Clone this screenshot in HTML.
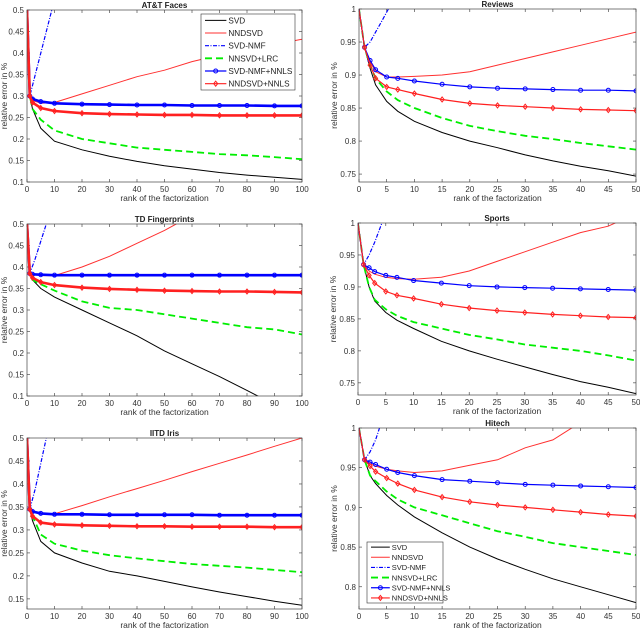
<!DOCTYPE html>
<html><head><meta charset="utf-8"><style>
html,body{margin:0;padding:0;background:#fff;}
svg{display:block;font-family:"Liberation Sans",sans-serif;}
</style></head><body>
<svg id="fig" width="640" height="629" viewBox="0 0 640 629" xmlns="http://www.w3.org/2000/svg"></svg>
<script>
// ---- data ----
const x100 = [0,1,2,5,10,20,30,40,50,60,70,80,90,100];
const x50 = [0,1,2,3,5,7,10,15,20,25,30,35,40,45,50];
const seriesNames = ["SVD","NNDSVD","SVD-NMF","NNSVD+LRC","SVD-NMF+NNLS","NNDSVD+NNLS"];

const attSVD = [0.5,0.3,0.27,0.225,0.195,0.175,0.16,0.148,0.138,0.13,0.122,0.116,0.111,0.106];
const attNND = [0.5,0.3,0.29,0.283,0.285,0.305,0.325,0.345,0.36,0.38,0.395,0.41,0.42,0.432];
const attNMFx = [0,1,3,5,7,9];
const attNMF = [0.5,0.3,0.35,0.4,0.45,0.5];
const attLRC = [0.5,0.3,0.27,0.245,0.22,0.2,0.19,0.18,0.175,0.17,0.165,0.162,0.158,0.153];
const attNMFNN = [0.5,0.3,0.293,0.287,0.283,0.281,0.28,0.279,0.279,0.278,0.278,0.278,0.277,0.277];
const attNNDNN = [0.5,0.3,0.285,0.272,0.265,0.26,0.258,0.257,0.256,0.256,0.255,0.255,0.255,0.255];

const tdSVD = [0.5,0.385,0.37,0.35,0.33,0.3,0.27,0.24,0.205,0.175,0.145,0.113,0.08,0.045];
const tdNND = [0.5,0.385,0.383,0.38,0.38,0.4,0.425,0.455,0.485,0.52,0.55,0.58,0.61,0.64];
const tdNMFx = [0,1,3,5,7];
const tdNMF = [0.5,0.385,0.42,0.46,0.5];
const tdLRC = [0.5,0.385,0.37,0.36,0.345,0.32,0.305,0.3,0.29,0.28,0.27,0.26,0.255,0.243];
const tdNMFNN = [0.5,0.385,0.383,0.382,0.381,0.381,0.381,0.381,0.381,0.381,0.381,0.381,0.381,0.381];
const tdNNDNN = [0.5,0.385,0.375,0.365,0.358,0.352,0.349,0.347,0.345,0.344,0.343,0.343,0.342,0.341];

const irSVD = [0.5,0.345,0.32,0.275,0.25,0.228,0.21,0.2,0.188,0.176,0.165,0.155,0.145,0.136];
const irNND = [0.5,0.345,0.34,0.335,0.335,0.353,0.372,0.39,0.408,0.427,0.445,0.463,0.482,0.5];
const irNMFx = [0,1,3,5,7];
const irNMF = [0.5,0.345,0.39,0.445,0.5];
const irLRC = [0.5,0.345,0.33,0.29,0.27,0.255,0.245,0.238,0.232,0.226,0.222,0.218,0.213,0.208];
const irNMFNN = [0.5,0.345,0.34,0.336,0.334,0.334,0.333,0.333,0.333,0.333,0.332,0.332,0.332,0.332];
const irNNDNN = [0.5,0.345,0.33,0.316,0.312,0.31,0.309,0.308,0.308,0.307,0.307,0.307,0.306,0.306];

const rvSVD = [1,0.942,0.91,0.885,0.86,0.845,0.83,0.813,0.8,0.79,0.779,0.77,0.762,0.755,0.747];
const rvNND = [1,0.942,0.92,0.905,0.897,0.897,0.898,0.9,0.905,0.915,0.925,0.935,0.945,0.955,0.965];
const rvNMFx = [0,1,2,3,4,5.3];
const rvNMF = [1,0.942,0.95,0.965,0.98,1];
const rvLRC = [1,0.942,0.915,0.895,0.875,0.862,0.85,0.835,0.823,0.815,0.808,0.803,0.797,0.792,0.787];
const rvNMFNN = [1,0.942,0.922,0.908,0.897,0.895,0.891,0.886,0.882,0.88,0.879,0.878,0.877,0.877,0.876];
const rvNNDNN = [1,0.942,0.915,0.895,0.882,0.878,0.872,0.863,0.857,0.854,0.852,0.85,0.848,0.847,0.846];

const spSVD = [1,0.935,0.9,0.878,0.86,0.848,0.835,0.815,0.8,0.787,0.775,0.763,0.752,0.743,0.733];
const spNND = [1,0.935,0.925,0.92,0.915,0.913,0.912,0.915,0.925,0.94,0.955,0.97,0.985,0.995,1.015];
const spNMFx = [0,1,2,3,4.3];
const spNMF = [1,0.935,0.95,0.97,1];
const spLRC = [1,0.935,0.9,0.88,0.865,0.855,0.845,0.835,0.825,0.818,0.81,0.805,0.8,0.793,0.785];
const spNMFNN = [1,0.935,0.93,0.924,0.918,0.915,0.91,0.906,0.902,0.9,0.899,0.898,0.897,0.896,0.895];
const spNNDNN = [1,0.935,0.918,0.906,0.893,0.887,0.882,0.873,0.867,0.863,0.86,0.857,0.855,0.853,0.852];

const htSVD = [1,0.96,0.94,0.93,0.915,0.903,0.888,0.868,0.85,0.835,0.822,0.81,0.8,0.79,0.78];
const htNND = [1,0.96,0.955,0.952,0.948,0.946,0.944,0.946,0.953,0.96,0.975,0.985,1.007,1.02,1.03];
const htNMFx = [0,1,2,3,3.7];
const htNMF = [1,0.96,0.97,0.985,1];
const htLRC = [1,0.96,0.94,0.933,0.92,0.91,0.9,0.89,0.88,0.87,0.863,0.855,0.85,0.845,0.84];
const htNMFNN = [1,0.96,0.957,0.954,0.948,0.944,0.94,0.935,0.933,0.931,0.929,0.928,0.927,0.926,0.925];
const htNNDNN = [1,0.96,0.952,0.945,0.937,0.93,0.922,0.913,0.907,0.903,0.9,0.897,0.894,0.891,0.889];

const yTicks01 = [0.1,0.15,0.2,0.25,0.3,0.35,0.4,0.45,0.5];
const yTicks015 = [0.15,0.2,0.25,0.3,0.35,0.4,0.45,0.5];
const yTicks075 = [0.75,0.8,0.85,0.9,0.95,1];
const yTicks08 = [0.8,0.85,0.9,0.95,1];
const xTicks100 = [0,10,20,30,40,50,60,70,80,90,100];
const xTicks50 = [0,5,10,15,20,25,30,35,40,45,50];

// ---- rendering ----
const NS = "http://www.w3.org/2000/svg";
const svg = document.getElementById('fig');
function mk(tag, attrs, parent){
  const e = document.createElementNS(NS, tag);
  for (const k in attrs) e.setAttribute(k, attrs[k]);
  (parent||svg).appendChild(e);
  return e;
}
const styles = [
  {stroke:"#000", w:1, dash:""},
  {stroke:"#ff3030", w:1, dash:""},
  {stroke:"#0000ff", w:1.2, dash:"4,1.5,1,1.5"},
  {stroke:"#00ee00", w:1.8, dash:"7,4"},
  {stroke:"#0000ff", w:1.2, dash:"", marker:"circle"},
  {stroke:"#ff2020", w:1.2, dash:"", marker:"diamond"}
];
const charts = [
  {id:"att", title:"AT&T Faces", L:27,R:302,T:10,B:182, xmax:100, ymin:0.1, ymax:0.5, yt:yTicks01, xt:xTicks100, xs:x100,
   d:[attSVD,attNND,attNMF,attLRC,attNMFNN,attNNDNN], nx:attNMFx, legend:{x:201,y:14,w:94,h:76}},
  {id:"reviews", title:"Reviews", L:359,R:636,T:9,B:182, xmax:50, ymin:0.738, ymax:1, yt:yTicks075, xt:xTicks50, xs:x50,
   d:[rvSVD,rvNND,rvNMF,rvLRC,rvNMFNN,rvNNDNN], nx:rvNMFx},
  {id:"td", title:"TD Fingerprints", L:27,R:302,T:224,B:396, xmax:100, ymin:0.1, ymax:0.5, yt:yTicks01, xt:xTicks100, xs:x100,
   d:[tdSVD,tdNND,tdNMF,tdLRC,tdNMFNN,tdNNDNN], nx:tdNMFx},
  {id:"sports", title:"Sports", L:358,R:636,T:223,B:395, xmax:50, ymin:0.731, ymax:1, yt:yTicks075, xt:xTicks50, xs:x50,
   d:[spSVD,spNND,spNMF,spLRC,spNMFNN,spNNDNN], nx:spNMFx},
  {id:"iitd", title:"IITD Iris", L:27,R:302,T:438,B:609, xmax:100, ymin:0.128, ymax:0.5, yt:yTicks015, xt:xTicks100, xs:x100,
   d:[irSVD,irNND,irNMF,irLRC,irNMFNN,irNNDNN], nx:irNMFx},
  {id:"hitech", title:"Hitech", L:359,R:636,T:428,B:609, xmax:50, ymin:0.772, ymax:1, yt:yTicks08, xt:xTicks50, xs:x50,
   d:[htSVD,htNND,htNMF,htLRC,htNMFNN,htNNDNN], nx:htNMFx, legend:{x:367,y:542,w:76,h:61}}
];
function marker(g, kind, cx, cy, color){
  let m;
  if (kind==="circle") m = mk('circle',{cx:cx,cy:cy,r:2,fill:"none",stroke:color,'stroke-width':1},g);
  else m = mk('polygon',{points:`${cx},${cy-2.5} ${cx+2},${cy} ${cx},${cy+2.5} ${cx-2},${cy}`,fill:"none",stroke:color,'stroke-width':1},g);
  
  
}
charts.forEach(c=>{
  const g = mk('g',{});
  
  
  const sx = v => c.L + v/c.xmax*(c.R-c.L);
  const sy = v => c.B - (v-c.ymin)/(c.ymax-c.ymin)*(c.B-c.T);
  const bg = mk('rect',{x:c.L,y:c.T,width:c.R-c.L,height:c.B-c.T,fill:"#fff"},g);
  
  
  const clip = mk('clipPath',{id:'clip-'+c.id},g);
  mk('rect',{x:c.L,y:c.T,width:c.R-c.L,height:c.B-c.T},clip);
  c.yt.forEach(t=>{
    const y = sy(t);
    mk('line',{x1:c.L,x2:c.L+3,y1:y,y2:y,stroke:"#333",'stroke-width':0.6},g);
    mk('line',{x1:c.R,x2:c.R-3,y1:y,y2:y,stroke:"#333",'stroke-width':0.6},g);
    const tx = mk('text',{x:c.L-3,y:y+3,'font-size':8,'text-anchor':'end',fill:"#333"},g);
    tx.textContent = String(t);
    
    
  });
  c.xt.forEach(t=>{
    const x = sx(t);
    mk('line',{x1:x,x2:x,y1:c.B,y2:c.B-3,stroke:"#333",'stroke-width':0.6},g);
    mk('line',{x1:x,x2:x,y1:c.T,y2:c.T+3,stroke:"#333",'stroke-width':0.6},g);
    const tx = mk('text',{x:x,y:c.B+10,'font-size':8,'text-anchor':'middle',fill:"#333"},g);
    tx.textContent = String(t);
    
    
  });
  const sg = mk('g',{'clip-path':`url(#clip-${c.id})`},g);
  const order = [0,3,1,2,4,5];
  order.forEach(i=>{
    const st = styles[i];
    const xs = (i===2) ? c.nx : c.xs;
    const ys = c.d[i];
    const pts = ys.map((v,k)=>sx(xs[k]).toFixed(1)+','+sy(v).toFixed(1)).join(' ');
    const w = (st.marker && c.xmax===100) ? 2.6 : st.w;
    const pl = mk('polyline',{points:pts,fill:"none",stroke:st.stroke,'stroke-width':w,'stroke-dasharray':st.dash},sg);
    
    
    if (st.marker) ys.forEach((v,k)=>{ if(k>0) marker(sg, st.marker, sx(xs[k]), sy(v), st.stroke); });
  });
  const fr = mk('rect',{x:c.L,y:c.T,width:c.R-c.L,height:c.B-c.T,fill:"none",stroke:"#444",'stroke-width':0.7},g);
  
  
  const ti = mk('text',{x:(c.L+c.R)/2,y:c.T-2,'font-size':8,'font-weight':'bold','text-anchor':'middle',fill:"#222"},g);
  ti.textContent = c.title;
  
  
  const xl = mk('text',{x:(c.L+c.R)/2,y:c.B+19,'font-size':8.5,'text-anchor':'middle',fill:"#333"},g);
  xl.textContent = "rank of the factorization";
  
  
  const yc = (c.T+c.B)/2, yx = c.L-(c.xmax===50?22:20);
  const yl = mk('text',{x:yx,y:yc,'font-size':8.5,'text-anchor':'middle',fill:"#333",transform:`rotate(-90 ${yx} ${yc})`},g);
  yl.textContent = "relative error in %";
  
  
  if (c.legend){
    const lg = mk('g',{},g);
    
    
    const L = c.legend;
    mk('rect',{x:L.x,y:L.y,width:L.w,height:L.h,fill:"#fff",stroke:"#333",'stroke-width':0.6},lg);
    const step = L.h/6, fs = c.id==="att"?8.2:7.5;
    const lw = c.id==="att"?0.27:0.3;
    seriesNames.forEach((n,i)=>{
      const st = styles[i];
      const y = L.y + step*(i+0.5);
      const e = mk('g',{},lg);
      
      
      mk('line',{x1:L.x+4,x2:L.x+L.w*lw,y1:y,y2:y,stroke:st.stroke,'stroke-width':st.w,'stroke-dasharray':st.dash},e);
      if (st.marker) marker(e, st.marker, L.x+4+(L.w*lw-4)/2, y, st.stroke);
      const t = mk('text',{x:L.x+L.w*lw+2,y:y+fs*0.36,'font-size':fs,fill:"#222"},e);
      t.textContent = n;
    });
  }
});
</script>
</body></html>
